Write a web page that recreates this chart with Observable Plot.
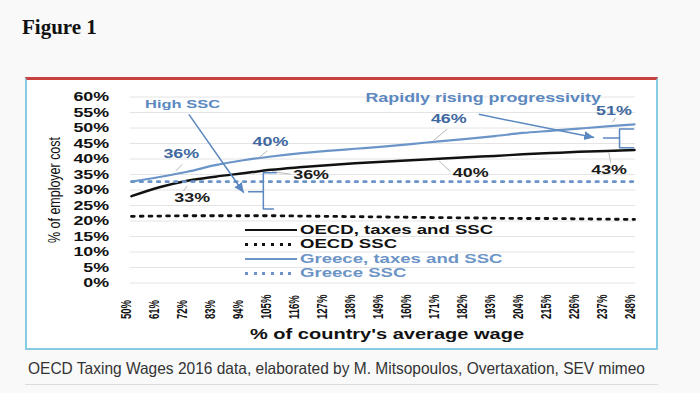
<!DOCTYPE html>
<html><head><meta charset="utf-8">
<script src="https://cdn.jsdelivr.net/npm/d3@7"></script>
<script src="https://cdn.jsdelivr.net/npm/@observablehq/plot@0.6"></script>
<style>
html,body{margin:0;padding:0}
body{width:700px;height:393px;background:#f9f9f9;position:relative;overflow:hidden;font-family:"Liberation Sans",Arial,sans-serif}
#fig{position:absolute;left:22px;top:15px;font-family:"Liberation Serif",serif;font-weight:bold;font-size:21px;color:#111}
#box{position:absolute;left:25px;top:77px;width:629px;height:268px;background:#fff;border-top:3px solid #c8403f;border-left:2px solid #86cde3;border-right:2px solid #86cde3;border-bottom:2px solid #86cde3}
#box svg{position:absolute;left:0;top:0;z-index:1}
#legend{position:absolute;left:218px;top:142.7px;z-index:2}
.row{height:14.6px;display:flex;align-items:center;white-space:nowrap}
.sw{width:52px;height:2.5px;margin-right:3px;flex:none}
.lt{display:inline-block;font-weight:bold;font-size:13px;line-height:14.6px;transform-origin:0 50%;transform:scaleX(1.43)}
#caption{position:absolute;left:28px;top:358px;font-size:16.5px;line-height:20px;color:#333;white-space:nowrap;transform-origin:0 50%}
#rule{position:absolute;left:25px;top:384px;width:633px;height:1px;background:#dcdcdc}
</style></head><body>
<div id="fig">Figure 1</div>
<div id="box"><div id="legend"></div></div>
<div id="caption">OECD Taxing Wages 2016 data, elaborated by M. Mitsopoulos, Overtaxation, SEV mimeo</div>
<div id="rule"></div>
<script>
// ---- data ----
const wages = [50,61,72,83,94,105,116,127,138,149,160,171,182,193,204,215,226,237,248];
const oecdTotal   = [28.0,30.9,33.0,34.3,35.4,36.5,37.3,38.0,38.6,39.1,39.6,40.1,40.6,41.0,41.5,41.9,42.3,42.6,42.9];
const oecdSSC     = [21.5,21.6,21.7,21.7,21.7,21.7,21.6,21.5,21.4,21.3,21.2,21.1,21.0,20.9,20.8,20.8,20.7,20.6,20.5];
const greeceTotal = [32.7,34.2,35.9,38.0,39.6,40.8,41.8,42.6,43.3,44.0,44.8,45.7,46.5,47.4,48.4,49.1,49.8,50.5,51.2];
const greeceSSC   = [32.7,32.7,32.7,32.7,32.7,32.7,32.7,32.7,32.7,32.7,32.7,32.7,32.7,32.7,32.7,32.7,32.7,32.7,32.7];
const yTicks = [0,5,10,15,20,25,30,35,40,45,50,55,60];
const seriesNames = ["OECD, taxes and SSC","OECD SSC","Greece, taxes and SSC","Greece SSC"];
const xTitle = "% of country's average wage";
const yTitle = "% of employer cost";

const valueLabels = [
  {label:"36%", wage:69.6,  pct:41.5, group:"Greece"},
  {label:"40%", wage:104.7, pct:45.5, group:"Greece"},
  {label:"46%", wage:174.9, pct:52.8, group:"Greece"},
  {label:"51%", wage:239.9, pct:55.5, group:"Greece"},
  {label:"33%", wage:73.9,  pct:27.5, group:"OECD"},
  {label:"36%", wage:120.7, pct:34.8, group:"OECD"},
  {label:"40%", wage:183.5, pct:35.6, group:"OECD"},
  {label:"43%", wage:238.0, pct:36.4, group:"OECD"}
];
const leaders = [
  {x1:70.0, y1:38.3, x2:67.4, y2:36.1},
  {x1:103.4,y1:42.6, x2:100.1,y2:40.4},
  {x1:174.2,y1:49.6, x2:168.9,y2:46.0},
  {x1:240.6,y1:53.3, x2:239.3,y2:51.9},
  {x1:71.9, y1:31.3, x2:70.5, y2:29.7},
  {x1:105.4,y1:35.9, x2:112.6,y2:35.1},
  {x1:175.6,y1:35.9, x2:171.0,y2:39.4},
  {x1:238.6,y1:38.8, x2:237.9,y2:42.0}
];
const arrows = [
  {x1:72.6, y1:54.4, x2:94.2,  y2:29.1},
  {x1:186.7,y1:54.4, x2:232.1, y2:46.9}
];
const brackets = [
  {seg:"a1", wage:96.1, pct:29.4},{seg:"a1", wage:101.9, pct:29.4},
  {seg:"a2", wage:107.0,pct:35.6},{seg:"a2", wage:101.9, pct:35.6},{seg:"a2", wage:101.9, pct:23.9},{seg:"a2", wage:105.9, pct:23.9},
  {seg:"b1", wage:235.8,pct:46.8},{seg:"b1", wage:242.1, pct:46.8},
  {seg:"b2", wage:247.6,pct:49.7},{seg:"b2", wage:242.1, pct:49.7},{seg:"b2", wage:242.1, pct:43.6},{seg:"b2", wage:247.6, pct:43.6}
];
const annotations = [
  {label:"High SSC", wage:70.1, pct:57.7, size:11.5},
  {label:"Rapidly rising progressivity", wage:188.4, pct:59.8, size:12.5}
];

// ---- styles ----
const BLACK = "#111", GLINE = "#6b95c8", LBLUE = "#40689e", ABLUE = "#5b88c0";
const series = [
  {name:seriesNames[0], values:oecdTotal,   color:BLACK, width:2.5, dash:null,      curve:"monotone-x"},
  {name:seriesNames[1], values:oecdSSC,     color:BLACK, width:2.8, dash:"2.8,6",   curve:"linear"},
  {name:seriesNames[2], values:greeceTotal, color:GLINE, width:2.2, dash:null,      curve:"monotone-x"},
  {name:seriesNames[3], values:greeceSSC,   color:GLINE, width:2.6, dash:"2.6,6",   curve:"linear"}
];

function filledArrow(color) {
  const m = d3.create("svg:marker")
    .attr("viewBox", "-10 -5 11 10")
    .attr("markerWidth", 11).attr("markerHeight", 10)
    .attr("markerUnits", "userSpaceOnUse")
    .attr("orient", "auto")
    .attr("fill", color).attr("stroke", "none");
  m.append("path").attr("d", "M-10,-4.5L0,0L-10,4.5Z");
  return m.node();
}

const lineMarks = series.map(s => Plot.line(
  wages.map((w, i) => ({wage: w, value: s.values[i]})),
  {x: "wage", y: "value", stroke: s.color, strokeWidth: s.width,
   strokeDasharray: s.dash || undefined, curve: s.curve}
));

const chart = Plot.plot({
  width: 629, height: 268,
  marginLeft: 102.7, marginRight: 20.7, marginTop: 16.5, marginBottom: 65.5,
  x: {domain: [49.5, 248.5], axis: null},
  y: {domain: [0, 60], axis: null},
  style: {fontFamily: "Liberation Sans, Arial, sans-serif", background: "transparent", overflow: "visible"},
  marks: [
    Plot.ruleY(yTicks, {stroke: "#e4e4e4", strokeWidth: 1}),
    Plot.text(yTicks, {y: d => d, frameAnchor: "left", dx: -21, textAnchor: "end",
      text: d => d + "%", fontSize: 12.5, fontWeight: "bold", fill: BLACK}),
    Plot.text(wages, {x: d => d, frameAnchor: "bottom", dy: 36, rotate: -90, textAnchor: "start",
      text: d => d + "%", fontSize: 14, fontWeight: "bold", fill: BLACK}),
    Plot.text([xTitle], {frameAnchor: "bottom", dy: 56, dx: 4, text: d => d,
      fontSize: 14, fontWeight: "bold", fill: BLACK}),
    Plot.text([yTitle], {frameAnchor: "left", dx: -76, dy: 53, rotate: -90, textAnchor: "start",
      text: d => d, fontSize: 17, fill: BLACK}),
    ...lineMarks,
    Plot.link(leaders, {x1: "x1", y1: "y1", x2: "x2", y2: "y2", stroke: "#b9b9b9", strokeWidth: 1}),
    Plot.line(brackets, {x: "wage", y: "pct", z: "seg", stroke: ABLUE, strokeWidth: 1.5, curve: "linear"}),
    Plot.link(arrows, {x1: "x1", y1: "y1", x2: "x2", y2: "y2", stroke: ABLUE, strokeWidth: 1.5, markerEnd: filledArrow}),
    Plot.text(valueLabels, {x: "wage", y: "pct", text: "label",
      fill: d => d.group === "Greece" ? LBLUE : "#1a1a1a", fontSize: 12.5, fontWeight: "bold"}),
    Plot.text(annotations, {x: "wage", y: "pct", text: "label", fill: ABLUE,
      fontSize: d => d.size, fontWeight: "bold"})
  ]
});

const box = document.getElementById("box");
box.insertBefore(chart, box.firstChild);

// legend (HTML overlay)
const legend = document.getElementById("legend");
series.forEach(s => {
  const row = document.createElement("div"); row.className = "row";
  const sw = document.createElement("span"); sw.className = "sw";
  if (s.dash) {
    sw.style.height = "3px";
    sw.style.background = `repeating-linear-gradient(90deg, ${s.color} 0 3px, transparent 3px 8.7px)`;
  } else {
    sw.style.height = s.width + "px";
    sw.style.background = s.color;
  }
  const t = document.createElement("span"); t.className = "lt";
  t.textContent = s.name;
  t.style.color = s.color === BLACK ? BLACK : "#6c94c6";
  row.appendChild(sw); row.appendChild(t);
  legend.appendChild(row);
});

// horizontal stretch of the original picture's lettering
chart.querySelectorAll("text").forEach(t => {
  const L = t.getComputedTextLength();
  if (!L) return;
  const tr = t.getAttribute("transform") || "";
  let target;
  if (t.textContent === yTitle) target = 106;
  else if (tr.includes("rotate")) target = L * 0.68;
  else target = L * 1.43;
  t.setAttribute("textLength", target);
  t.setAttribute("lengthAdjust", "spacingAndGlyphs");
});

const cap = document.getElementById("caption");
const cw = cap.getBoundingClientRect().width;
cap.style.transform = `scaleX(${617 / cw})`;
</script></body></html>
